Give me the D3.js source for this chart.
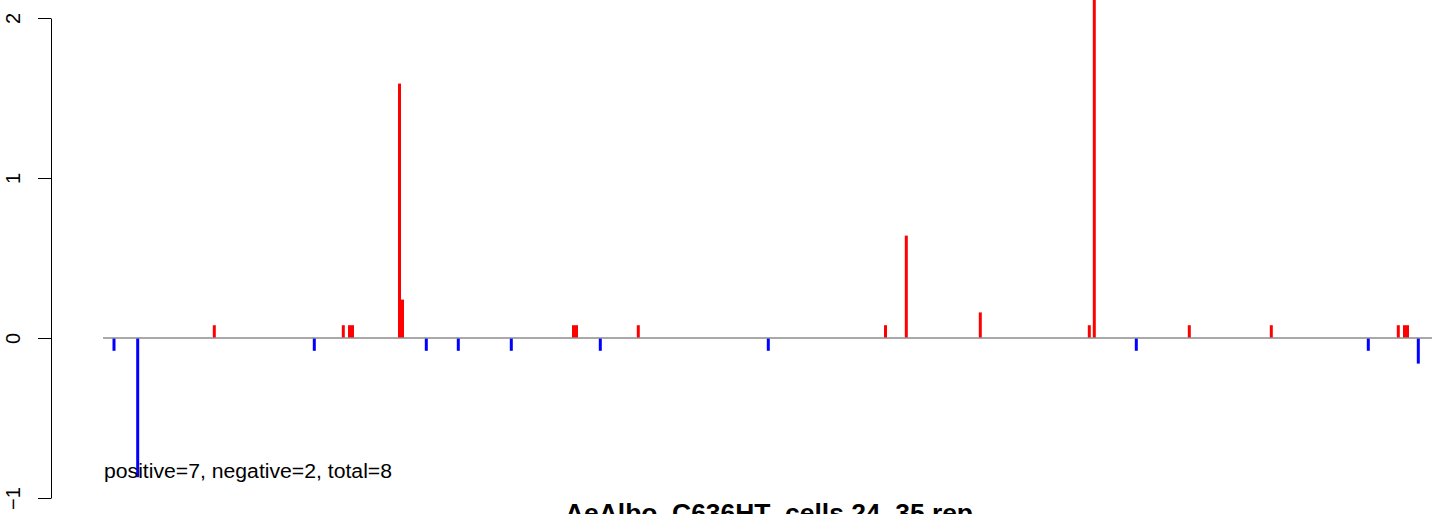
<!DOCTYPE html>
<html>
<head>
<meta charset="utf-8">
<script src="https://cdn.jsdelivr.net/npm/d3@7"></script>
<style>
  html, body { margin: 0; padding: 0; background: #fff; }
  svg { display: block; }
  text { font-family: "Liberation Sans", Arial, Helvetica, sans-serif; }
</style>
</head>
<body>
<svg id="chart" width="1444" height="514"></svg>
<script>
// ---- data ----
const positions = [11, 34.7, 111.3, 211.3, 240.3, 246.5, 249.5, 296.5, 299.5, 323.3,
                   355.3, 408.3, 470.5, 473.5, 497.3, 535.3, 665.3, 782.5, 803.3, 877.3,
                   986.3, 991.3, 1033.3, 1086.3, 1168.3, 1265.3, 1295.3, 1301.5, 1304.5, 1315.3];
const values    = [-0.08, -0.87, 0.08, -0.08, 0.08, 0.08, 0.08, 1.59, 0.24, -0.08,
                   -0.08, -0.08, 0.08, 0.08, -0.08, 0.08, -0.08, 0.08, 0.64, 0.16,
                   0.08, 2.45, -0.08, 0.08, 0.08, -0.08, 0.08, 0.08, 0.08, -0.16];
const yTicks = [-1, 0, 1, 2];
const xExtent = [0, 1329];
const summaryText = "positive=7, negative=2, total=8";
const titleText = "AeAlbo_C636HT_cells 24_35 rep";

// ---- layout ----
const svg = d3.select("#chart");
const x = d3.scaleLinear().domain(xExtent).range([103, 1432]);
const y = d3.scaleLinear().domain([-1, 2]).range([498, 18]);

const data = positions.map((p, i) => ({ pos: p, val: values[i] }));

// bars (type = "h")
svg.append("g").selectAll("line")
  .data(data)
  .join("line")
  .attr("x1", d => x(d.pos))
  .attr("x2", d => x(d.pos))
  .attr("y1", y(0))
  .attr("y2", d => y(d.val))
  .attr("stroke", d => d.val >= 0 ? "#ff0000" : "#0000ff")
  .attr("stroke-width", 3);

// zero line
svg.append("line")
  .attr("x1", x(xExtent[0])).attr("x2", x(xExtent[1]))
  .attr("y1", y(0)).attr("y2", y(0))
  .attr("stroke", "#8c8c8c")
  .attr("stroke-width", 1.5);

// y axis
const yAxis = d3.axisLeft(y).tickValues(yTicks).tickSize(13).tickSizeOuter(0).tickFormat(d3.format("d"));
const ax = svg.append("g").attr("transform", "translate(51,0)").call(yAxis);
ax.select(".domain").attr("stroke", "#000").attr("stroke-width", 1);
ax.selectAll(".tick line").attr("stroke", "#000").attr("stroke-width", 1);
ax.selectAll(".tick text")
  .attr("x", null).attr("dy", null)
  .attr("transform", "translate(-31,0) rotate(-90)")
  .attr("text-anchor", "middle")
  .attr("font-size", 20)
  .attr("fill", "#000")
  .text(d => d < 0 ? "\u2212" + Math.abs(d) : d);

// summary text
svg.append("text")
  .attr("x", 104).attr("y", 478)
  .attr("font-size", 20)
  .attr("textLength", 288)
  .attr("lengthAdjust", "spacingAndGlyphs")
  .attr("fill", "#000")
  .text(summaryText);

// title (cut off at the bottom, as in the reference)
svg.append("text")
  .attr("x", 769).attr("y", 522)
  .attr("text-anchor", "middle")
  .attr("font-size", 25)
  .attr("font-weight", "bold")
  .attr("textLength", 408)
  .attr("lengthAdjust", "spacingAndGlyphs")
  .attr("fill", "#000")
  .text(titleText);
</script>
</body>
</html>
